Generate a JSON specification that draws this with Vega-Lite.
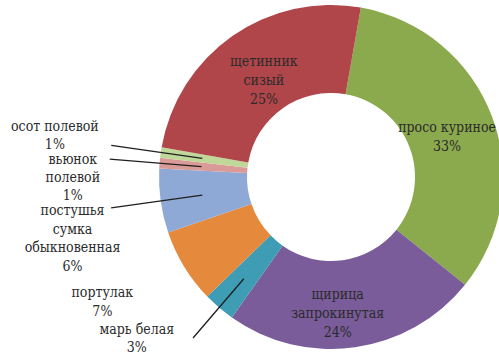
{
  "$schema": "https://vega.github.io/schema/vega-lite/v6.json",
  "width": 499,
  "height": 356,
  "autosize": {"type": "none"},
  "padding": 0,
  "background": "white",
  "config": {"view": {"stroke": null}, "text": {"font": "DejaVu Serif Condensed", "fontSize": 14, "color": "#2b2b2b", "align": "center", "baseline": "middle", "lineBreak": "\n"}},
  "data": {
    "values": [
      {"name": "просо куриное", "value": 33, "order": 1, "label": "просо куриное\n33%"},
      {"name": "щирица запрокинутая", "value": 24, "order": 2, "label": "щирица\nзапрокинутая\n24%"},
      {"name": "марь белая", "value": 3, "order": 3, "label": "марь белая\n3%"},
      {"name": "портулак", "value": 7, "order": 4, "label": "портулак\n7%"},
      {"name": "постушья сумка обыкновенная", "value": 6, "order": 5, "label": "постушья\nсумка\nобыкновенная\n6%"},
      {"name": "вьюнок полевой", "value": 1, "order": 6, "label": "вьюнок\nполевой\n1%"},
      {"name": "осот полевой", "value": 1, "order": 7, "label": "осот полевой\n1%"},
      {"name": "щетинник сизый", "value": 25, "order": 8, "label": "щетинник\nсизый\n25%"}
    ]
  },
  "transform": [
    {"stack": "value", "groupby": [], "sort": [{"field": "order"}], "as": ["s0", "s1"]},
    {"calculate": "(datum.s0 + datum.s1) / 2", "as": "mid"}
  ],
  "resolve": {"scale": {"theta": "shared"}},
  "layer": [
    {
      "mark": {"type": "arc", "x": 331, "y": 177, "outerRadius": 172, "innerRadius": 84, "stroke": null},
      "encoding": {
        "theta": {"field": "s0", "type": "quantitative", "stack": null, "scale": {"domain": [0, 100], "range": [0.1745, 6.4577]}},
        "theta2": {"field": "s1"},
        "color": {
          "field": "name", "type": "nominal", "legend": null,
          "scale": {
            "domain": ["просо куриное", "щирица запрокинутая", "марь белая", "портулак", "постушья сумка обыкновенная", "вьюнок полевой", "осот полевой", "щетинник сизый"],
            "range": ["#8BAA4E", "#7A5C9A", "#3E9DB4", "#E5893C", "#8FA9D6", "#DA9A98", "#C0D79A", "#B0464A"]
          }
        }
      }
    },
    {
      "transform": [{"filter": {"field": "name", "oneOf": ["постушья сумка обыкновенная", "вьюнок полевой", "осот полевой"]}}],
      "mark": {"type": "arc", "x": 331, "y": 177, "outerRadius": 222, "innerRadius": 130, "fill": null, "stroke": "#1f1f1f", "strokeWidth": 1.3},
      "encoding": {
        "theta": {"field": "mid", "type": "quantitative", "stack": null},
        "theta2": {"field": "mid"}
      }
    },
    {
      "transform": [{"filter": {"field": "name", "equal": "марь белая"}}],
      "mark": {"type": "arc", "x": 331, "y": 177, "outerRadius": 212, "innerRadius": 134, "fill": null, "stroke": "#1f1f1f", "strokeWidth": 1.3},
      "encoding": {
        "theta": {"field": "mid", "type": "quantitative", "stack": null},
        "theta2": {"field": "mid"}
      }
    },
    {
      "transform": [{"filter": {"field": "name", "equal": "просо куриное"}}],
      "mark": {"type": "text", "x": 331, "y": 177, "radius": 124, "dy": -5, "lineHeight": 19},
      "encoding": {"theta": {"field": "mid", "type": "quantitative", "stack": null}, "text": {"field": "label"}}
    },
    {
      "transform": [{"filter": {"field": "name", "equal": "щирица запрокинутая"}}],
      "mark": {"type": "text", "x": 331, "y": 177, "radius": 134, "dx": -12, "dy": -15, "lineHeight": 19},
      "encoding": {"theta": {"field": "mid", "type": "quantitative", "stack": null}, "text": {"field": "label"}}
    },
    {
      "transform": [{"filter": {"field": "name", "equal": "щетинник сизый"}}],
      "mark": {"type": "text", "x": 331, "y": 177, "radius": 117, "dy": -19, "lineHeight": 19},
      "encoding": {"theta": {"field": "mid", "type": "quantitative", "stack": null}, "text": {"field": "label"}}
    },
    {
      "transform": [{"filter": {"field": "name", "equal": "осот полевой"}}],
      "mark": {"type": "text", "x": 331, "y": 177, "radius": 279, "dy": -10, "lineHeight": 18},
      "encoding": {"theta": {"field": "mid", "type": "quantitative", "stack": null}, "text": {"field": "label"}}
    },
    {
      "transform": [{"filter": {"field": "name", "equal": "вьюнок полевой"}}],
      "mark": {"type": "text", "x": 331, "y": 177, "radius": 259, "dy": 4, "lineHeight": 18},
      "encoding": {"theta": {"field": "mid", "type": "quantitative", "stack": null}, "text": {"field": "label"}}
    },
    {
      "transform": [{"filter": {"field": "name", "equal": "постушья сумка обыкновенная"}}],
      "mark": {"type": "text", "x": 331, "y": 177, "radius": 261, "dy": -2, "lineHeight": 18.5},
      "encoding": {"theta": {"field": "mid", "type": "quantitative", "stack": null}, "text": {"field": "label"}}
    },
    {
      "transform": [{"filter": {"field": "name", "equal": "портулак"}}],
      "mark": {"type": "text", "x": 331, "y": 177, "radius": 255, "dx": -11, "dy": -17, "lineHeight": 19},
      "encoding": {"theta": {"field": "mid", "type": "quantitative", "stack": null}, "text": {"field": "label"}}
    },
    {
      "transform": [{"filter": {"field": "name", "equal": "марь белая"}}],
      "mark": {"type": "text", "x": 331, "y": 177, "radius": 240, "dx": -38, "dy": -29, "lineHeight": 18},
      "encoding": {"theta": {"field": "mid", "type": "quantitative", "stack": null}, "text": {"field": "label"}}
    }
  ]
}
